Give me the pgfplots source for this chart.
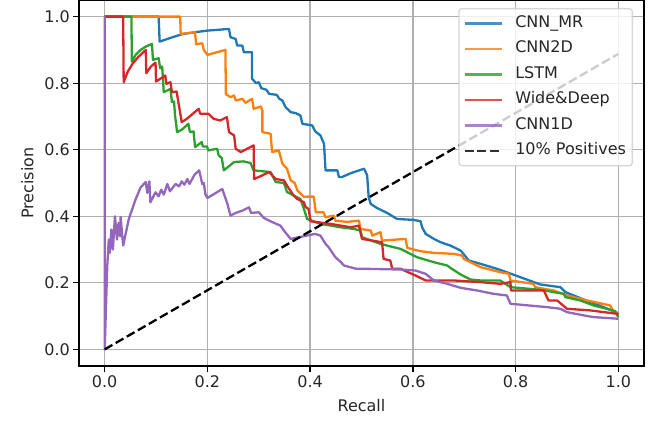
\documentclass[border=0pt]{standalone}
\usepackage{fontspec}
\setmainfont{DejaVu Sans}
\usepackage{pgfplots}
\pgfplotsset{compat=1.18}
\definecolor{c0}{HTML}{1F77B4}
\definecolor{c1}{HTML}{FF7F0E}
\definecolor{c2}{HTML}{2CA02C}
\definecolor{c3}{HTML}{D62728}
\definecolor{c4}{HTML}{9467BD}
\definecolor{gridc}{HTML}{B0B0B0}
\definecolor{legc}{HTML}{CCCCCC}
\begin{document}
\begin{tikzpicture}
\begin{axis}[
  scale only axis, width=565pt, height=366pt,
  xmin=-0.05, xmax=1.05, ymin=-0.05, ymax=1.05,
  xtick={0,0.2,0.4,0.6,0.8,1}, ytick={0,0.2,0.4,0.6,0.8,1},
  xticklabels={0.0,0.2,0.4,0.6,0.8,1.0},
  yticklabels={0.0,0.2,0.4,0.6,0.8,1.0},
  tick align=outside, major tick length=5.6pt,
  tick style={black, line width=1.28pt},
  axis line style={line width=1.28pt},
  xtick pos=lower, ytick pos=left,
  grid=major, major grid style={line width=1.28pt, color=gridc},
  font=\fontsize{16}{19}\selectfont,
  tick label style={font=\fontsize{16}{19}\selectfont, text=black!85},
  label style={font=\fontsize{16}{19}\selectfont, text=black!85},
  xlabel={Recall}, ylabel={Precision},
  xlabel style={yshift=-5pt}, ylabel style={yshift=4pt},
  legend cell align=left,
  legend image code/.code={\path (-4.7pt,0pt) (43pt,0pt); \draw[#1] (0pt,0pt) -- (37pt,0pt);},
  legend style={at={(1,1)}, anchor=north east, xshift=-11pt, yshift=-8pt,
    draw=legc, line width=1.28pt, rounded corners=3pt, fill=white,
    fill opacity=0.8, draw opacity=0.8, text opacity=1,
    inner xsep=0pt, inner ysep=2pt, row sep=0pt,
    font=\fontsize{16}{19}\selectfont, text=black!85,
    nodes={inner xsep=6.4pt, inner ysep=4.75pt, text height=12pt, text depth=4pt}},
  every axis plot/.append style={line width=2.3pt, line join=round},
]
\addplot[c0] coordinates {(0,1) (0.105,1) (0.107,0.925) (0.13,0.937) (0.15,0.947) (0.175,0.953) (0.2,0.958) (0.242,0.963) (0.245,0.938) (0.255,0.933) (0.258,0.913) (0.268,0.913) (0.271,0.893) (0.287,0.893) (0.287,0.813) (0.295,0.80) (0.30,0.803) (0.305,0.785) (0.315,0.78) (0.32,0.768) (0.335,0.765) (0.34,0.753) (0.346,0.748) (0.352,0.728) (0.362,0.713) (0.372,0.71) (0.381,0.703) (0.385,0.678) (0.404,0.673) (0.41,0.655) (0.42,0.643) (0.427,0.618) (0.43,0.538) (0.453,0.538) (0.456,0.518) (0.462,0.518) (0.48,0.53) (0.505,0.543) (0.511,0.523) (0.514,0.457) (0.518,0.437) (0.53,0.425) (0.55,0.41) (0.569,0.392) (0.602,0.389) (0.615,0.385) (0.618,0.367) (0.625,0.347) (0.641,0.332) (0.654,0.322) (0.673,0.312) (0.693,0.297) (0.709,0.267) (0.732,0.257) (0.77,0.239) (0.809,0.217) (0.848,0.195) (0.887,0.187) (0.897,0.172) (0.929,0.152) (0.971,0.127) (0.99,0.115) (1,0.105)};
\addlegendentry{CNN\_MR}
\addplot[c1] coordinates {(0,1) (0.147,1) (0.148,0.948) (0.176,0.953) (0.178,0.917) (0.19,0.92) (0.193,0.9) (0.2,0.885) (0.235,0.9) (0.236,0.767) (0.245,0.758) (0.252,0.763) (0.255,0.748) (0.268,0.753) (0.274,0.741) (0.287,0.753) (0.29,0.723) (0.304,0.73) (0.307,0.718) (0.307,0.653) (0.323,0.648) (0.326,0.593) (0.339,0.598) (0.346,0.558) (0.355,0.543) (0.362,0.508) (0.37,0.5) (0.375,0.478) (0.388,0.458) (0.394,0.459) (0.407,0.459) (0.411,0.412) (0.426,0.412) (0.43,0.397) (0.446,0.402) (0.449,0.387) (0.472,0.383) (0.495,0.387) (0.498,0.362) (0.518,0.357) (0.521,0.342) (0.537,0.352) (0.54,0.327) (0.586,0.332) (0.589,0.305) (0.615,0.295) (0.64,0.29) (0.68,0.287) (0.696,0.282) (0.699,0.272) (0.732,0.247) (0.77,0.232) (0.787,0.227) (0.79,0.207) (0.835,0.197) (0.838,0.187) (0.874,0.177) (0.9,0.162) (0.939,0.147) (0.984,0.132) (0.991,0.112) (1,0.11)};
\addlegendentry{CNN2D}
\addplot[c2] coordinates {(0,1) (0.052,1) (0.053,0.865) (0.06,0.885) (0.07,0.9) (0.08,0.91) (0.092,0.918) (0.094,0.87) (0.105,0.875) (0.108,0.845) (0.112,0.85) (0.115,0.773) (0.128,0.783) (0.131,0.743) (0.135,0.745) (0.137,0.703) (0.141,0.653) (0.15,0.66) (0.163,0.678) (0.166,0.653) (0.173,0.655) (0.176,0.608) (0.189,0.623) (0.191,0.61) (0.199,0.61) (0.202,0.598) (0.219,0.603) (0.222,0.583) (0.228,0.575) (0.232,0.538) (0.252,0.563) (0.27,0.565) (0.284,0.56) (0.29,0.538) (0.323,0.533) (0.333,0.503) (0.349,0.5) (0.355,0.473) (0.381,0.452) (0.388,0.422) (0.394,0.392) (0.42,0.377) (0.44,0.372) (0.459,0.367) (0.485,0.362) (0.498,0.357) (0.501,0.337) (0.537,0.317) (0.576,0.302) (0.608,0.277) (0.641,0.262) (0.667,0.252) (0.673,0.245) (0.693,0.225) (0.712,0.21) (0.732,0.207) (0.77,0.207) (0.79,0.187) (0.848,0.179) (0.894,0.167) (0.897,0.157) (0.926,0.147) (0.952,0.132) (0.978,0.122) (0.994,0.115) (1,0.097)};
\addlegendentry{LSTM}
\addplot[c3] coordinates {(0,1) (0.036,1) (0.037,0.803) (0.045,0.835) (0.055,0.86) (0.065,0.878) (0.08,0.9) (0.081,0.83) (0.09,0.85) (0.099,0.862) (0.1,0.805) (0.11,0.815) (0.118,0.823) (0.12,0.798) (0.128,0.803) (0.131,0.773) (0.14,0.775) (0.144,0.738) (0.15,0.683) (0.16,0.693) (0.183,0.723) (0.186,0.708) (0.202,0.708) (0.212,0.693) (0.225,0.688) (0.238,0.698) (0.242,0.653) (0.252,0.643) (0.255,0.603) (0.265,0.593) (0.29,0.613) (0.291,0.512) (0.307,0.523) (0.32,0.533) (0.333,0.512) (0.349,0.508) (0.355,0.492) (0.368,0.462) (0.375,0.452) (0.388,0.442) (0.391,0.428) (0.397,0.422) (0.401,0.385) (0.44,0.377) (0.479,0.367) (0.495,0.372) (0.501,0.332) (0.54,0.322) (0.543,0.272) (0.556,0.267) (0.56,0.242) (0.576,0.242) (0.605,0.222) (0.625,0.207) (0.68,0.207) (0.732,0.202) (0.77,0.197) (0.79,0.202) (0.791,0.177) (0.855,0.177) (0.864,0.147) (0.881,0.147) (0.9,0.122) (0.946,0.117) (0.997,0.107) (1,0.105)};
\addlegendentry{Wide\&Deep}
\addplot[c4] coordinates {(0,1) (0,0) (0.005,0.25) (0.008,0.33) (0.01,0.29) (0.013,0.36) (0.016,0.30) (0.02,0.40) (0.024,0.33) (0.027,0.38) (0.03,0.34) (0.031,0.398) (0.036,0.312) (0.047,0.392) (0.06,0.45) (0.07,0.487) (0.08,0.503) (0.083,0.47) (0.087,0.505) (0.089,0.442) (0.099,0.472) (0.105,0.46) (0.11,0.48) (0.115,0.465) (0.122,0.497) (0.127,0.475) (0.138,0.497) (0.145,0.49) (0.15,0.505) (0.155,0.495) (0.161,0.512) (0.165,0.497) (0.175,0.525) (0.184,0.538) (0.19,0.497) (0.193,0.5) (0.196,0.467) (0.2,0.455) (0.213,0.467) (0.229,0.482) (0.239,0.437) (0.245,0.402) (0.255,0.41) (0.268,0.417) (0.281,0.427) (0.285,0.41) (0.3,0.412) (0.31,0.395) (0.32,0.387) (0.33,0.38) (0.342,0.372) (0.35,0.355) (0.362,0.332) (0.381,0.338) (0.41,0.347) (0.42,0.342) (0.43,0.317) (0.436,0.307) (0.449,0.277) (0.458,0.265) (0.466,0.252) (0.49,0.242) (0.511,0.242) (0.576,0.24) (0.605,0.237) (0.625,0.227) (0.641,0.207) (0.667,0.197) (0.693,0.185) (0.725,0.177) (0.757,0.167) (0.783,0.162) (0.79,0.137) (0.861,0.127) (0.887,0.122) (0.9,0.112) (0.933,0.102) (0.952,0.097) (1,0.092)};
\addlegendentry{CNN1D}
\addplot[black, dash pattern=on 8.9pt off 3.85pt, line join=miter] coordinates {(0,0) (1,0.888)};
\addlegendentry{10\% Positives}
\end{axis}
\pgfresetboundingbox
\path[use as bounding box] ([shift={(-79pt,-58pt)}]current axis.south west) rectangle ([shift={(18pt,0pt)}]current axis.north east);
\end{tikzpicture}
\end{document}
